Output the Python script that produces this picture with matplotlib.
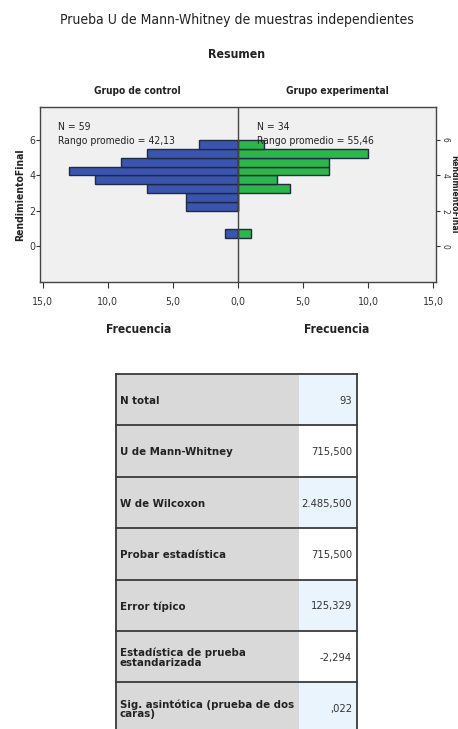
import matplotlib
matplotlib.use("Agg")
import matplotlib.pyplot as plt
from matplotlib import font_manager
from matplotlib.patches import Rectangle

# prefer a condensed face if one is installed
condensed = [f for f in font_manager.fontManager.ttflist
             if f.stretch in ('condensed', 'semi-condensed', 'extra-condensed')
             or 'Narrow' in f.name or 'Condensed' in f.name]
if condensed:
    plt.rcParams['font.family'] = [condensed[0].name, 'DejaVu Sans']
    plt.rcParams['font.stretch'] = condensed[0].stretch
    size_k = 1.0
else:
    plt.rcParams['font.family'] = ['Liberation Sans', 'DejaVu Sans']
    size_k = 0.85

# histogram bins (lower edge, width 0.5) of RendimientoFinal
bin_lo = [0.5, 2.0, 2.5, 3.0, 3.5, 4.0, 4.5, 5.0, 5.5]
control_counts = [1, 4, 4, 7, 11, 13, 9, 7, 3]
experimental_counts = [1, 0, 0, 4, 3, 7, 7, 10, 2]
bin_w = 0.5

x_ticks = [-15, -10, -5, 0, 5, 10, 15]
x_labels = ['15,0', '10,0', '5,0', '0,0', '5,0', '10,0', '15,0']
y_ticks = [0, 2, 4, 6]

groups = ['Grupo de control', 'Grupo experimental']
group_n = [59, 34]
group_rank = ['42,13', '55,46']

stat_labels = ['N total', 'U de Mann-Whitney', 'W de Wilcoxon', 'Probar estadística',
               'Error típico', 'Estadística de prueba\nestandarizada',
               'Sig. asintótica (prueba de dos\ncaras)']
stat_values = ['93', '715,500', '2.485,500', '715,500', '125,329', '-2,294', ',022']

W, H = 458, 729
blue = '#3B55AE'
green = '#2DB64B'
edge = '#1E2B45'
txt = '#222222'

fig = plt.figure(figsize=(W / 100, H / 100), dpi=100)
fig.patch.set_facecolor('white')


def fx(x):
    return x / W


def fy(y):
    return 1 - y / H


def fs(v):
    return v * size_k


fig.text(fx(237), fy(20), 'Prueba U de Mann-Whitney de muestras independientes',
         ha='center', va='center', fontsize=fs(10), color=txt)
fig.text(fx(237), fy(54), 'Resumen', ha='center', va='center', fontsize=fs(8.8),
         weight='bold', color=txt)
fig.text(fx(137), fy(91), groups[0], ha='center', va='center', fontsize=fs(7.3),
         weight='bold', color=txt)
fig.text(fx(337), fy(91), groups[1], ha='center', va='center', fontsize=fs(7.3),
         weight='bold', color=txt)

# back-to-back histogram
ax = fig.add_axes([fx(40), fy(282), fx(396), 175 / H])
ax.set_facecolor('#F0F0F0')
centers = [b + bin_w / 2 for b in bin_lo]
ax.barh(centers, [-c for c in control_counts], height=bin_w, color=blue,
        edgecolor=edge, linewidth=1.0, zorder=2)
ax.barh(centers, experimental_counts, height=bin_w, color=green,
        edgecolor=edge, linewidth=1.0, zorder=2)
ax.axvline(0, color='#444444', lw=1.0, zorder=3)
ax.set_xlim(-15.2, 15.2)
ax.set_ylim(-2, 7.85)
for s in ax.spines.values():
    s.set_color('#444444')
    s.set_linewidth(1.0)
ax.set_xticks(x_ticks)
ax.set_xticklabels(x_labels)
ax.set_yticks(y_ticks)
ax.tick_params(axis='both', labelsize=fs(7.6), colors='#333333', length=4,
               width=0.8, direction='out')
ax.tick_params(axis='x', pad=7)
ax.tick_params(axis='y', right=True, labelright=True, length=3, pad=0.5)
for t in ax.yaxis.get_major_ticks():
    t.label2.set_rotation(-90)
    t.label2.set_va('center')
    t.label2.set_ha('left')
    t.label2.set_fontsize(fs(6))
ax.set_ylabel('RendimientoFinal', fontsize=7.5, weight='bold', color=txt,
              labelpad=3, family=['DejaVu Sans'])

for i, x0 in enumerate([58, 257]):
    fig.text(fx(x0), fy(127), 'N = %d' % group_n[i], ha='left', va='center',
             fontsize=fs(7.5), color=txt)
    fig.text(fx(x0), fy(141), 'Rango promedio = %s' % group_rank[i], ha='left',
             va='center', fontsize=fs(7.5), color=txt, zorder=5)

fig.text(fx(453.5), fy(194.5), 'RendimientoFinal', rotation=-90, ha='center',
         va='center', fontsize=6.3, weight='bold', color=txt,
         family=['DejaVu Sans'])

fig.text(fx(139), fy(330), 'Frecuencia', ha='center', va='center',
         fontsize=fs(8.6), weight='bold', color=txt)
fig.text(fx(337), fy(330), 'Frecuencia', ha='center', va='center',
         fontsize=fs(8.6), weight='bold', color=txt)

# summary table
tab = fig.add_axes([0, 0, 1, 1])
tab.set_xlim(0, W)
tab.set_ylim(H, 0)
tab.axis('off')
tab.patch.set_alpha(0)
left, mid, right = 116, 299, 357
top, row_h = 374, 51.4
for i, (lab, val) in enumerate(zip(stat_labels, stat_values)):
    y0 = top + i * row_h
    tab.add_patch(Rectangle((left, y0), mid - left, row_h, facecolor='#D9D9D9',
                            edgecolor='none'))
    tab.add_patch(Rectangle((mid, y0), right - mid, row_h,
                            facecolor='#EAF4FD' if i % 2 == 0 else 'white',
                            edgecolor='none'))
    tab.plot([left, right], [y0, y0], color='#3A3A3A', lw=1.3)
    tab.text(left + 4, y0 + row_h / 2 + 1, lab, ha='left', va='center',
             fontsize=fs(8.2), weight='bold', color=txt, linespacing=0.95)
    tab.text(right - 5, y0 + row_h / 2 + 1, val, ha='right', va='center',
             fontsize=fs(8), color='#333333')
bottom = top + len(stat_labels) * row_h
tab.plot([left, left], [top, bottom], color='#3A3A3A', lw=1.3)
tab.plot([right, right], [top, bottom], color='#3A3A3A', lw=1.3)

fig.savefig('out.png', dpi=100)
